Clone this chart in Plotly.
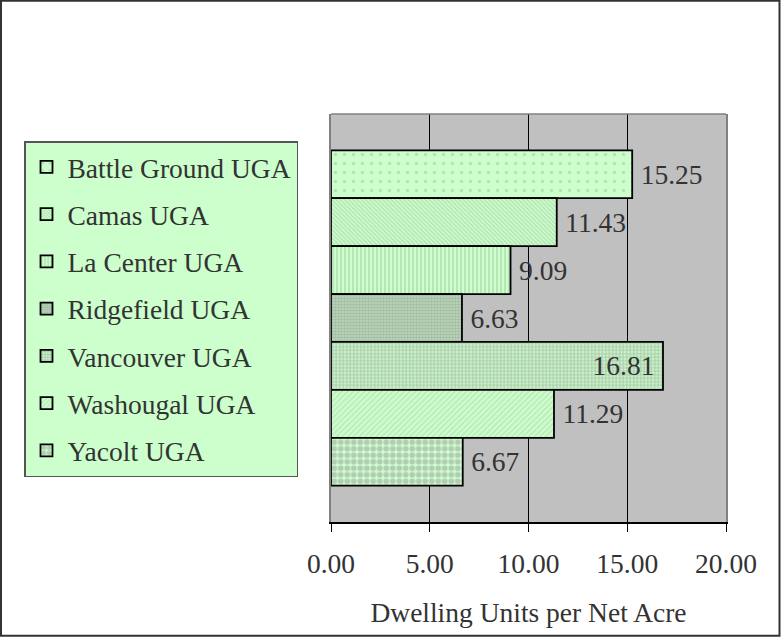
import plotly.graph_objects as go

categories = ["Battle Ground UGA", "Camas UGA", "La Center UGA", "Ridgefield UGA",
              "Vancouver UGA", "Washougal UGA", "Yacolt UGA"]
values = [15.25, 11.43, 9.09, 6.63, 16.81, 11.29, 6.67]
x_ticks = [0, 5, 10, 15, 20]
x_tick_labels = ["0.00", "5.00", "10.00", "15.00", "20.00"]
axis_title = "Dwelling Units per Net Acre"

# styles per series (pattern shape, fg colour, size, solidity, base colour, label position)
styles = [
    dict(shape=".", fg="#9cc89c", size=9, sol=0.12, bg="#ccffcc", pos="outside"),
    dict(shape="\\", fg="#99c099", size=3, sol=0.45, bg="#ccffcc", pos="outside"),
    dict(shape="|", fg="#9cc89c", size=4, sol=0.45, bg="#ccffcc", pos="outside"),
    dict(shape=".", fg="#8a988a", size=3, sol=0.6, bg="#bcdcbc", pos="outside"),
    dict(shape="+", fg="#8c9c8c", size=3.5, sol=0.5, bg="#c8f4c8", pos="inside"),
    dict(shape="/", fg="#a8d2a8", size=4, sol=0.4, bg="#ccffcc", pos="outside"),
    dict(shape=".", fg="#999999", size=6.5, sol=0.62, bg="#ccffcc", pos="outside"),
]

FONT = "Liberation Serif, Times New Roman, serif"
FS = 27.5
TXT = "#333333"
TS = "\u2009"

fig = go.Figure()
for name, v, st in zip(categories, values, styles):
    tmpl = (TS + "%{x:.2f}") if st["pos"] == "outside" else ("%{x:.2f}" + TS)
    fig.add_trace(go.Bar(
        y=[0], x=[v], name=name, orientation="h", legendgroup=name,
        marker=dict(color=st["bg"], line=dict(color="black", width=1.8),
                    pattern=dict(shape=st["shape"], fgcolor=st["fg"], bgcolor=st["bg"],
                                 size=st["size"], solidity=st["sol"], fillmode="overlay")),
        texttemplate=tmpl, textposition=st["pos"], insidetextanchor="end",
        textfont=dict(family=FONT, size=FS, color=TXT),
        insidetextfont=dict(family=FONT, size=FS, color=TXT),
        outsidetextfont=dict(family=FONT, size=FS, color=TXT),
        constraintext="none", cliponaxis=False, hoverinfo="skip",
    ))

L, R, T, B = 331, 55, 114, 115
W, H = 781, 637
pw, ph = W - L - R, H - T - B

def px(xp):
    return (xp - L) / pw

def py(yp):
    return (H - B - yp) / ph

fig.update_layout(
    width=W, height=H,
    margin=dict(l=L, r=R, t=T, b=B, pad=0),
    paper_bgcolor="white", plot_bgcolor="#c0c0c0",
    barmode="group", bargap=0.178, bargroupgap=0,
    font=dict(family=FONT, size=FS, color=TXT),
    showlegend=True,
    legend=dict(x=px(24), y=py(141), xanchor="left", yanchor="top",
                bgcolor="#ccffcc", bordercolor="#555555", borderwidth=1.5,
                font=dict(family=FONT, size=FS, color=TXT),
                tracegroupgap=8.5, traceorder="grouped", itemwidth=32),
    xaxis=dict(range=[0, 20], tickvals=x_ticks, ticktext=x_tick_labels,
               showgrid=True, gridcolor="black", gridwidth=1, zeroline=False,
               showline=True, linecolor="black", linewidth=1.5,
               ticks="outside", ticklen=8, tickcolor="black", tickwidth=1.2,
               ticklabelstandoff=8,
               tickfont=dict(family=FONT, size=FS, color=TXT),
               title=dict(text=axis_title, font=dict(family=FONT, size=FS, color=TXT), standoff=25)),
    yaxis=dict(autorange="reversed", showticklabels=False, showgrid=False, zeroline=False,
               showline=True, linecolor="#808080", linewidth=1.5, mirror=True, ticks=""),
    shapes=[
        dict(type="line", xref="paper", yref="paper", x0=0, x1=1, y0=1, y1=1,
             line=dict(color="#808080", width=1.5), layer="above"),
        dict(type="rect", xref="paper", yref="paper",
             x0=px(1), x1=px(779.5), y0=py(0.8), y1=py(635.7),
             line=dict(color="#333333", width=2), layer="above"),
    ],
)

fig.write_html("out.html")
